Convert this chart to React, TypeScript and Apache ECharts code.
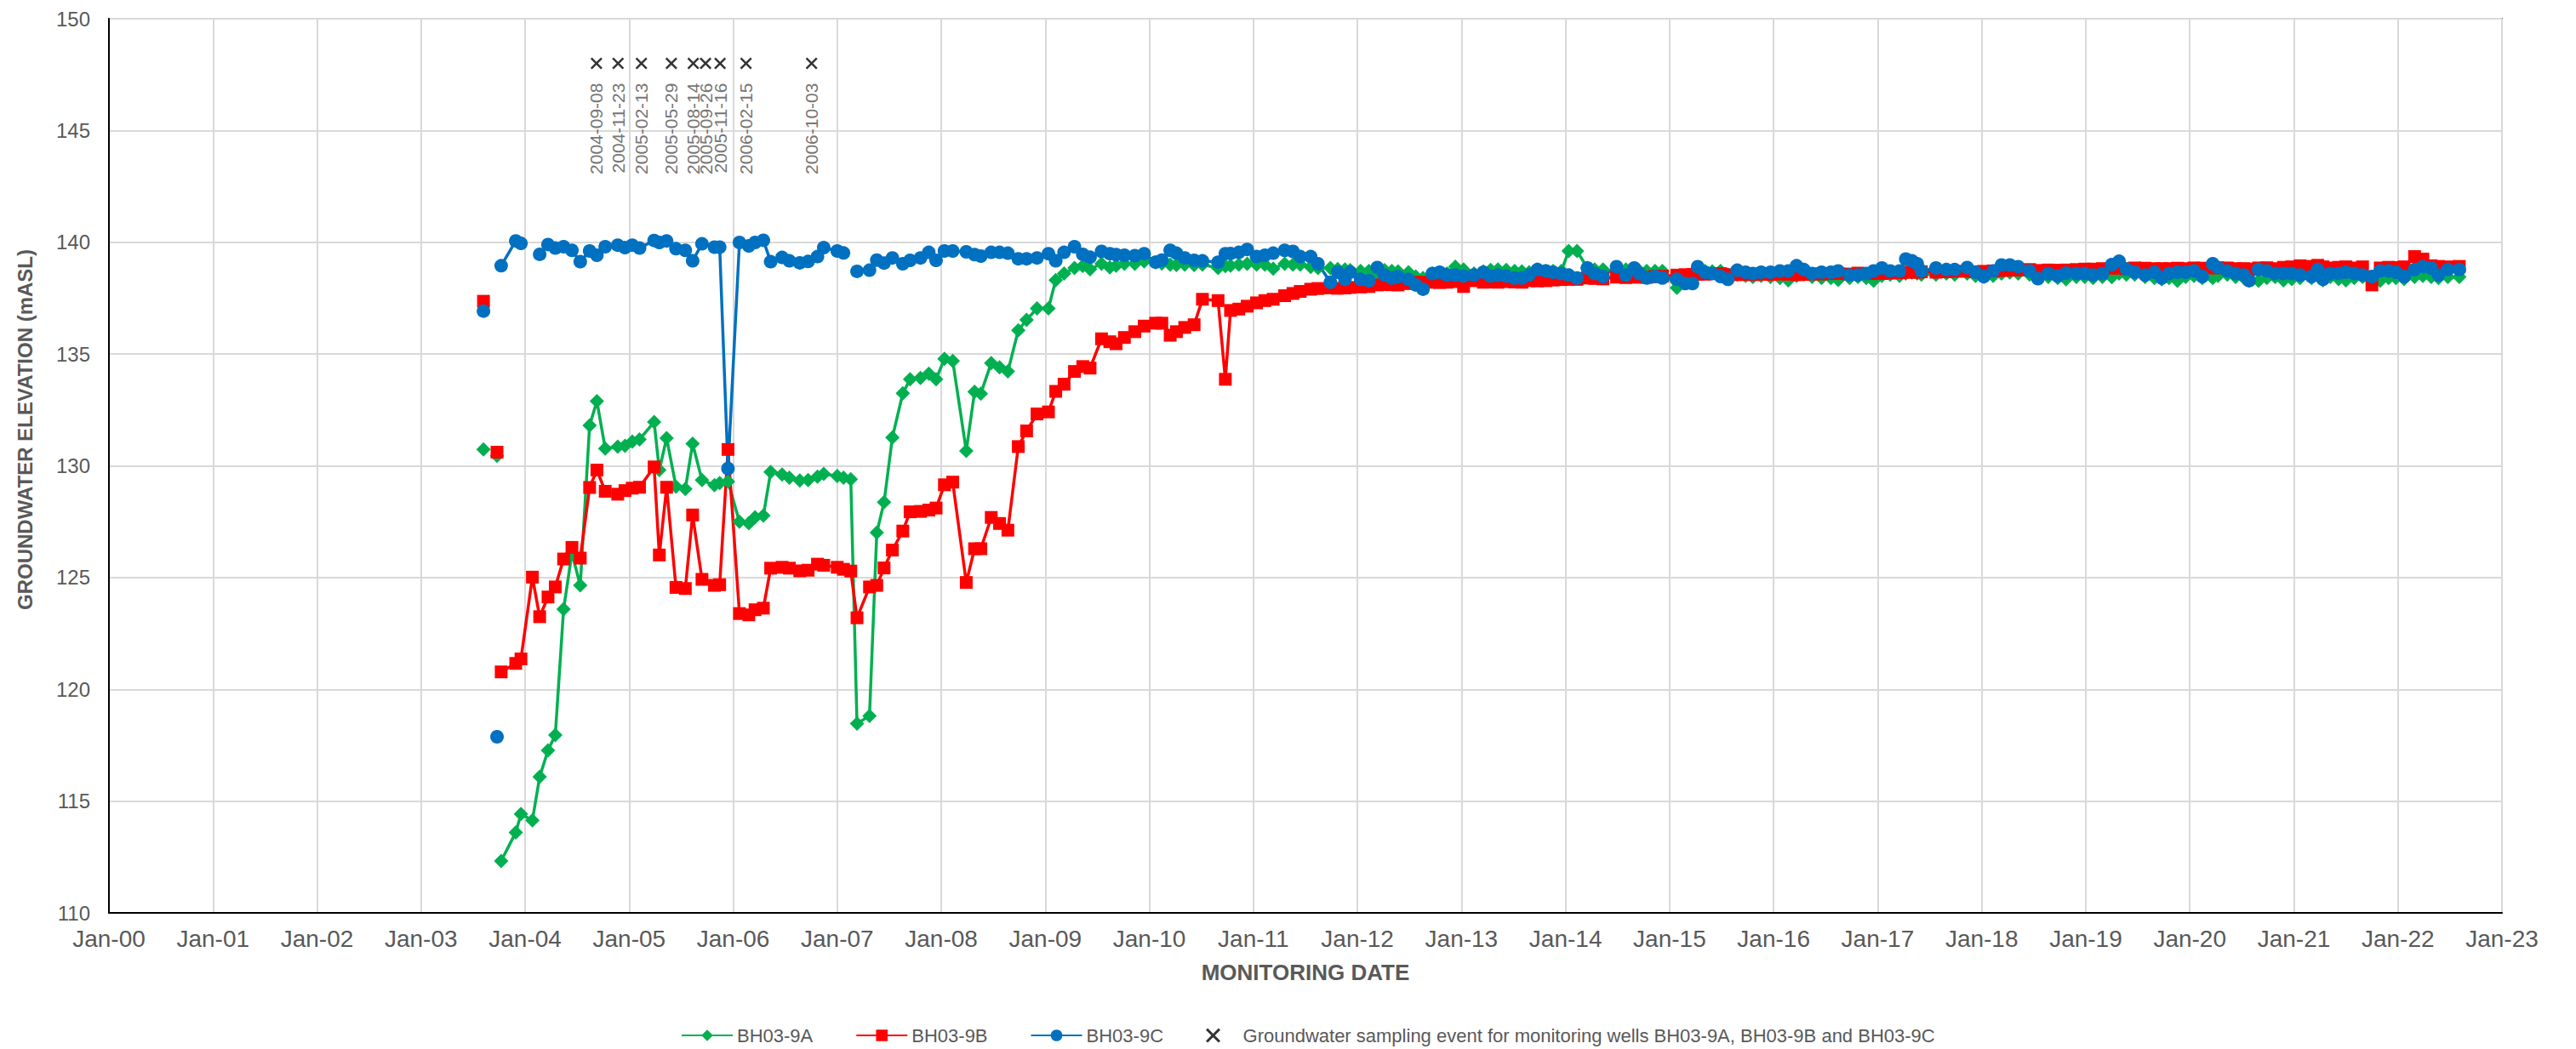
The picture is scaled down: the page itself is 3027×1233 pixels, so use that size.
import React, { useEffect, useRef } from "react";
import * as echarts from "echarts";

// ---- Early record (2003-2011), [decimal year, elevation mASL]; null = gap in record
const EARLY_9A: [number, number | null][] = [
  [2003.60,130.73],[2003.66,null],[2003.73,130.45],[2003.75,null],[2003.77,112.32],[2003.91,113.60],[2003.96,114.42],[2004.07,114.14],[2004.14,116.09],[2004.22,117.27],[2004.29,117.95],[2004.37,123.59],[2004.45,126.10],[2004.53,124.65],[2004.62,131.81],[2004.69,132.89],[2004.77,130.77],[2004.89,130.86],[2004.96,130.89],[2005.03,131.08],[2005.10,131.18],[2005.24,131.96],[2005.29,129.81],[2005.36,131.24],[2005.45,129.07],[2005.54,128.96],[2005.61,130.99],[2005.70,129.36],[2005.82,129.13],[2005.87,129.23],[2005.95,129.30],[2006.06,127.50],[2006.15,127.43],[2006.21,127.70],[2006.29,127.77],[2006.36,129.72],[2006.47,129.61],[2006.54,129.47],[2006.64,129.34],[2006.72,129.36],[2006.81,129.51],[2006.87,129.64],[2007.00,129.54],[2007.06,129.47],[2007.13,129.40],[2007.19,118.47],[2007.31,118.81],[2007.38,127.01],[2007.45,128.37],[2007.53,131.27],[2007.63,133.24],[2007.70,133.87],[2007.80,133.93],[2007.88,134.12],[2007.95,133.87],[2008.03,134.79],[2008.11,134.69],[2008.24,130.67],[2008.32,133.31],[2008.38,133.23],[2008.48,134.60],[2008.56,134.41],[2008.64,134.22],[2008.74,136.06],[2008.82,136.53],[2008.92,137.04],[2009.03,137.04],[2009.10,138.31],[2009.18,138.60],[2009.28,138.85],[2009.36,138.94],[2009.43,138.79],[2009.54,139.04],[2009.62,138.88],[2009.68,138.95],[2009.76,139.04],[2009.86,139.04],[2009.95,139.14],[2010.06,139.11],[2010.12,139.05],[2010.20,139.00],[2010.26,138.98],[2010.34,139.00],[2010.43,138.98],[2010.51,139.00],[2010.66,138.85],[2010.73,138.93],[2010.78,138.95],[2010.86,139.00],[2010.94,139.04],[2011.03,139.00],[2011.11,139.00],[2011.19,138.82],[2011.30,139.04],[2011.38,139.00],[2011.45,139.00],[2011.55,138.90],[2011.62,138.85]
];
const EARLY_9B: [number, number | null][] = [
  [2003.60,137.36],[2003.66,null],[2003.73,130.61],[2003.75,null],[2003.77,120.78],[2003.91,121.16],[2003.96,121.36],[2004.07,125.02],[2004.14,123.25],[2004.22,124.13],[2004.29,124.58],[2004.37,125.83],[2004.45,126.35],[2004.53,125.87],[2004.62,129.03],[2004.69,129.81],[2004.77,128.86],[2004.89,128.73],[2004.96,128.89],[2005.03,129.00],[2005.10,129.04],[2005.24,129.95],[2005.29,126.01],[2005.36,129.04],[2005.45,124.56],[2005.54,124.51],[2005.61,127.80],[2005.70,124.92],[2005.82,124.65],[2005.87,124.68],[2005.95,130.73],[2006.06,123.39],[2006.15,123.33],[2006.21,123.56],[2006.29,123.63],[2006.36,125.42],[2006.47,125.46],[2006.54,125.42],[2006.64,125.30],[2006.72,125.33],[2006.81,125.60],[2006.87,125.55],[2007.00,125.46],[2007.06,125.37],[2007.13,125.29],[2007.19,123.20],[2007.31,124.58],[2007.38,124.65],[2007.45,125.43],[2007.53,126.23],[2007.63,127.08],[2007.70,127.94],[2007.80,127.96],[2007.88,128.02],[2007.95,128.11],[2008.03,129.15],[2008.11,129.27],[2008.24,124.78],[2008.32,126.29],[2008.38,126.29],[2008.48,127.69],[2008.56,127.42],[2008.64,127.12],[2008.74,130.86],[2008.82,131.56],[2008.92,132.32],[2009.03,132.41],[2009.10,133.33],[2009.18,133.65],[2009.28,134.22],[2009.36,134.44],[2009.43,134.37],[2009.54,135.68],[2009.62,135.55],[2009.68,135.46],[2009.76,135.74],[2009.86,136.00],[2009.95,136.25],[2010.06,136.38],[2010.12,136.38],[2010.20,135.84],[2010.26,136.00],[2010.34,136.19],[2010.43,136.31],[2010.51,137.45],[2010.66,137.39],[2010.73,133.87],[2010.78,136.95],[2010.86,137.01],[2010.94,137.14],[2011.03,137.29],[2011.11,137.39],[2011.19,137.45],[2011.30,137.61],[2011.38,137.71],[2011.45,137.80],[2011.55,137.90],[2011.62,137.93]
];
const EARLY_9C: [number, number | null][] = [
  [2003.60,136.92],[2003.66,null],[2003.73,117.88],[2003.75,null],[2003.77,138.95],[2003.91,140.06],[2003.96,139.95],[2004.07,null],[2004.14,139.46],[2004.22,139.90],[2004.29,139.74],[2004.37,139.80],[2004.45,139.64],[2004.53,139.13],[2004.62,139.61],[2004.69,139.42],[2004.77,139.80],[2004.89,139.87],[2004.96,139.76],[2005.03,139.87],[2005.10,139.74],[2005.24,140.08],[2005.29,139.99],[2005.36,140.06],[2005.45,139.71],[2005.54,139.64],[2005.61,139.17],[2005.70,139.93],[2005.82,139.78],[2005.87,139.78],[2005.95,129.88],[2006.06,139.99],[2006.15,139.84],[2006.21,139.99],[2006.29,140.09],[2006.36,139.13],[2006.47,139.32],[2006.54,139.17],[2006.64,139.08],[2006.72,139.14],[2006.81,139.36],[2006.87,139.76],[2007.00,139.61],[2007.06,139.52],[2007.13,null],[2007.19,138.70],[2007.31,138.75],[2007.38,139.20],[2007.45,139.07],[2007.53,139.30],[2007.63,139.04],[2007.70,139.19],[2007.80,139.30],[2007.88,139.55],[2007.95,139.19],[2008.03,139.61],[2008.11,139.61],[2008.24,139.57],[2008.32,139.45],[2008.38,139.38],[2008.48,139.55],[2008.56,139.55],[2008.64,139.51],[2008.74,139.26],[2008.82,139.26],[2008.92,139.30],[2009.03,139.49],[2009.10,139.17],[2009.18,139.55],[2009.28,139.80],[2009.36,139.46],[2009.43,139.33],[2009.54,139.59],[2009.62,139.49],[2009.68,139.45],[2009.76,139.42],[2009.86,139.40],[2009.95,139.49],[2010.06,139.11],[2010.12,139.20],[2010.20,139.64],[2010.26,139.51],[2010.34,139.30],[2010.43,139.19],[2010.51,139.17],[2010.66,139.11],[2010.73,139.49],[2010.78,139.50],[2010.86,139.55],[2010.94,139.68],[2011.03,139.36],[2011.11,139.42],[2011.19,139.51],[2011.30,139.64],[2011.38,139.59],[2011.45,139.36],[2011.55,139.36],[2011.62,139.04]
];

// ---- Later record (2011-2022), shared monitoring dates
const LATE_DATES = [
  2011.74,2011.81,2011.88,2011.93,2012.03,2012.11,2012.19,2012.26,2012.33,2012.39,
  2012.49,2012.56,2012.63,2012.72,2012.79,2012.86,2012.94,2013.02,2013.12,2013.21,
  2013.28,2013.35,2013.43,2013.51,2013.58,2013.65,2013.73,2013.81,2013.88,2013.96,
  2014.03,2014.11,2014.21,2014.28,2014.36,2014.49,2014.58,2014.66,2014.71,2014.78,
  2014.86,2014.93,2015.07,2015.15,2015.22,2015.27,2015.34,2015.41,2015.49,2015.56,
  2015.65,2015.73,2015.80,2015.88,2015.97,2016.06,2016.14,2016.22,2016.29,2016.37,
  2016.46,2016.55,2016.62,2016.73,2016.81,2016.89,2016.96,2017.04,2017.12,2017.21,
  2017.27,2017.33,2017.38,2017.42,2017.56,2017.66,2017.74,2017.86,2017.94,2018.02,
  2018.11,2018.19,2018.27,2018.35,2018.46,2018.54,2018.64,2018.73,2018.81,2018.91,
  2018.99,2019.07,2019.16,2019.25,2019.32,2019.39,2019.47,2019.57,2019.66,2019.73,
  2019.80,2019.88,2019.96,2020.04,2020.12,2020.22,2020.27,2020.36,2020.44,2020.52,
  2020.57,2020.66,2020.74,2020.82,2020.90,2020.98,2021.06,2021.17,2021.23,2021.28,
  2021.35,2021.43,2021.50,2021.58,2021.66,2021.75,2021.83,2021.91,2021.98,2022.06,
  2022.16,2022.24,2022.32,2022.39,2022.48,2022.59
];
const LATE_9A = [
  138.85,138.80,138.78,138.75,138.72,138.72,138.60,138.75,138.72,138.70,
  138.66,138.47,138.40,138.60,138.60,138.60,138.91,138.78,138.60,138.70,
  138.76,138.78,138.76,138.72,138.70,138.66,138.78,138.72,138.72,138.72,
  139.61,139.61,138.85,138.78,138.78,138.66,138.78,138.75,138.72,138.72,
  138.72,138.72,137.96,138.28,138.40,138.72,138.72,138.70,138.72,138.55,
  138.55,138.50,138.45,138.50,138.45,138.40,138.30,138.50,138.55,138.45,
  138.40,138.40,138.32,138.40,138.45,138.40,138.28,138.50,138.55,138.50,
  138.60,138.65,138.60,138.55,138.55,138.60,138.55,138.60,138.50,138.45,
  138.50,138.60,138.65,138.60,138.55,138.45,138.45,138.40,138.34,138.45,
  138.45,138.40,138.45,138.44,138.60,138.55,138.55,138.45,138.40,138.34,
  138.40,138.28,138.45,138.50,138.40,138.40,138.50,138.55,138.45,138.40,
  138.30,138.28,138.40,138.45,138.30,138.35,138.40,138.40,138.50,138.30,
  138.45,138.35,138.30,138.40,138.45,138.40,138.28,138.40,138.40,138.35,
  138.45,138.50,138.45,138.40,138.45,138.45
];
const LATE_9B = [
  137.96,137.94,137.96,137.98,138.00,138.02,138.09,138.11,138.10,138.09,
  138.15,138.21,138.21,138.21,138.20,138.21,138.24,138.02,138.28,138.21,
  138.22,138.21,138.24,138.22,138.21,138.28,138.27,138.28,138.31,138.33,
  138.34,138.34,138.40,138.38,138.36,138.44,138.42,138.44,138.44,138.43,
  138.47,138.48,138.53,138.55,138.56,138.57,138.57,138.60,138.60,138.55,
  138.55,138.56,138.55,138.57,138.56,138.58,138.57,138.55,138.56,138.58,
  138.58,138.60,138.60,138.58,138.62,138.60,138.60,138.60,138.62,138.64,
  138.66,138.66,138.66,138.68,138.66,138.68,138.70,138.70,138.68,138.70,
  138.72,138.74,138.75,138.76,138.78,138.74,138.76,138.75,138.76,138.78,
  138.80,138.80,138.82,138.84,138.85,138.82,138.85,138.84,138.82,138.82,
  138.82,138.84,138.82,138.85,138.84,138.85,138.86,138.85,138.82,138.82,
  138.80,138.85,138.86,138.82,138.88,138.90,138.95,138.92,138.97,138.90,
  138.85,138.88,138.90,138.85,138.90,138.09,138.85,138.88,138.87,138.90,
  139.36,139.25,138.95,138.92,138.90,138.92
];
const LATE_9C = [
  138.21,138.66,138.34,138.66,138.34,138.28,138.87,138.53,138.40,138.47,
  138.34,138.09,137.90,138.60,138.66,138.53,138.53,138.49,138.53,138.66,
  138.49,138.53,138.49,138.40,138.40,138.53,138.78,138.72,138.66,138.60,
  138.53,138.40,138.85,138.60,138.47,138.91,138.53,138.85,138.60,138.40,
  138.47,138.40,138.34,138.15,138.15,138.91,138.66,138.60,138.47,138.34,
  138.75,138.66,138.60,138.66,138.66,138.72,138.72,138.95,138.78,138.60,
  138.66,138.66,138.72,138.53,138.53,138.60,138.72,138.85,138.72,138.72,
  139.25,139.17,139.04,138.72,138.85,138.78,138.78,138.87,138.66,138.47,
  138.72,138.98,138.98,138.91,138.72,138.37,138.60,138.49,138.62,138.60,
  138.60,138.53,138.60,139.00,139.15,138.80,138.66,138.53,138.66,138.40,
  138.60,138.66,138.66,138.72,138.47,139.04,138.87,138.72,138.60,138.53,
  138.28,138.78,138.72,138.60,138.60,138.60,138.53,138.47,138.78,138.34,
  138.60,138.60,138.66,138.60,138.53,138.47,138.72,138.72,138.66,138.47,
  138.78,138.91,138.85,138.53,138.78,138.78
];

// ---- Groundwater sampling events
const SAMPLING_DATES = [
  "2004-09-08","2004-11-23","2005-02-13","2005-05-29","2005-08-14",
  "2005-09-26","2005-11-16","2006-02-15","2006-10-03"
];
const SAMPLING_LEVEL = 148;

const SERIES_NAMES = ["BH03-9A", "BH03-9B", "BH03-9C"];
const SAMPLING_NAME = "Groundwater sampling event for monitoring wells BH03-9A, BH03-9B and BH03-9C";
const X_MIN_YEAR = 2000;
const X_MAX_YEAR = 2023;
const Y_MIN = 110;
const Y_MAX = 150;
const Y_STEP = 5;

const FONT = "'Liberation Sans', Arial, Helvetica, sans-serif";
const GREY = "#595959";
const X_SYMBOL = "path://M0,1.5 L1.5,0 L6,4.5 L10.5,0 L12,1.5 L7.5,6 L12,10.5 L10.5,12 L6,7.5 L1.5,12 L0,10.5 L4.5,6 Z";

function toDecimalYear(s: string): number {
  const [y, m, d] = s.split("-").map(Number);
  const start = Date.UTC(y, 0, 1);
  const end = Date.UTC(y + 1, 0, 1);
  return y + (Date.UTC(y, m - 1, d) - start) / (end - start);
}

function joinSeries(early: [number, number | null][], late: number[]) {
  return [...early, ...LATE_DATES.map((d, i) => [d, late[i]] as [number, number | null])];
}

export default function App() {
  const ref = useRef<HTMLDivElement>(null);
  useEffect(() => {
    if (!ref.current) return;
    const chart = echarts.init(ref.current, null, { renderer: "svg" });

    const lineSeries = (name: string, data: any[], color: string, symbol: string, size: number) => ({
      name,
      type: "line",
      data,
      connectNulls: false,
      showSymbol: true,
      showAllSymbol: true,
      symbol,
      symbolSize: size,
      lineStyle: { color, width: 3.5 },
      itemStyle: { color, borderWidth: 0 },
      emphasis: { disabled: true },
    });

    chart.setOption({
      animation: false,
      backgroundColor: "#ffffff",
      textStyle: { fontFamily: FONT },
      grid: {
        left: 128, top: 22, right: 87, bottom: 160,
        show: true, borderColor: "#000", borderWidth: 1.5, containLabel: false,
      },
      xAxis: {
        type: "value",
        min: X_MIN_YEAR,
        max: X_MAX_YEAR,
        interval: 1,
        axisLine: { show: true, lineStyle: { color: "#000", width: 2 } },
        axisTick: { show: false },
        splitLine: { show: true, lineStyle: { color: "#d9d9d9", width: 2 } },
        axisLabel: {
          color: GREY, fontSize: 28, fontFamily: FONT, margin: 16,
          formatter: (v: number) => "Jan-" + String(Math.round(v) % 100).padStart(2, "0"),
        },
      },
      yAxis: {
        type: "value",
        min: Y_MIN,
        max: Y_MAX,
        interval: Y_STEP,
        axisLine: { show: true, lineStyle: { color: "#000", width: 2 } },
        axisTick: { show: false },
        splitLine: { show: true, lineStyle: { color: "#d9d9d9", width: 2 } },
        axisLabel: { color: GREY, fontSize: 24, fontFamily: FONT, margin: 22 },
      },
      legend: {
        left: 795,
        top: 1201,
        itemWidth: 60,
        itemHeight: 17,
        itemGap: 50,
        textStyle: { color: GREY, fontSize: 22, fontFamily: FONT },
        data: [
          SERIES_NAMES[0], SERIES_NAMES[1], SERIES_NAMES[2],
          { name: SAMPLING_NAME, icon: X_SYMBOL, itemStyle: { color: "#000" } },
        ],
      },
      graphic: [
        {
          type: "text", x: 1534, y: 1143,
          style: { text: "MONITORING DATE", fill: GREY, font: `bold 26px ${FONT}`, textAlign: "center", textVerticalAlign: "middle" },
        },
        {
          type: "text", x: 29, y: 505, rotation: Math.PI / 2,
          style: { text: "GROUNDWATER ELEVATION (mASL)", fill: GREY, font: `bold 24px ${FONT}`, textAlign: "center", textVerticalAlign: "middle" },
        },
      ],
      series: [
        lineSeries(SERIES_NAMES[0], joinSeries(EARLY_9A, LATE_9A), "#00B050", "diamond", 17),
        lineSeries(SERIES_NAMES[1], joinSeries(EARLY_9B, LATE_9B), "#FF0000", "rect", 15),
        lineSeries(SERIES_NAMES[2], joinSeries(EARLY_9C, LATE_9C), "#0070C0", "circle", 16),
        {
          name: SAMPLING_NAME,
          type: "scatter",
          symbol: X_SYMBOL,
          symbolSize: 14,
          itemStyle: { color: "#000" },
          z: 10,
          emphasis: { disabled: true },
          data: SAMPLING_DATES.map((d) => ({ name: d, value: [toDecimalYear(d), SAMPLING_LEVEL] })),
          label: {
            show: true,
            formatter: (p: any) => p.name,
            position: "bottom",
            distance: 16,
            rotate: 90,
            align: "right",
            verticalAlign: "middle",
            color: "#505050",
            fontSize: 21,
            fontFamily: FONT,
          },
        },
      ],
    });
    return () => chart.dispose();
  }, []);
  return (
    <div
      ref={ref}
      style={{ position: "absolute", left: 0, top: 0, width: 3027, height: 1233, background: "#fff" }}
    />
  );
}
